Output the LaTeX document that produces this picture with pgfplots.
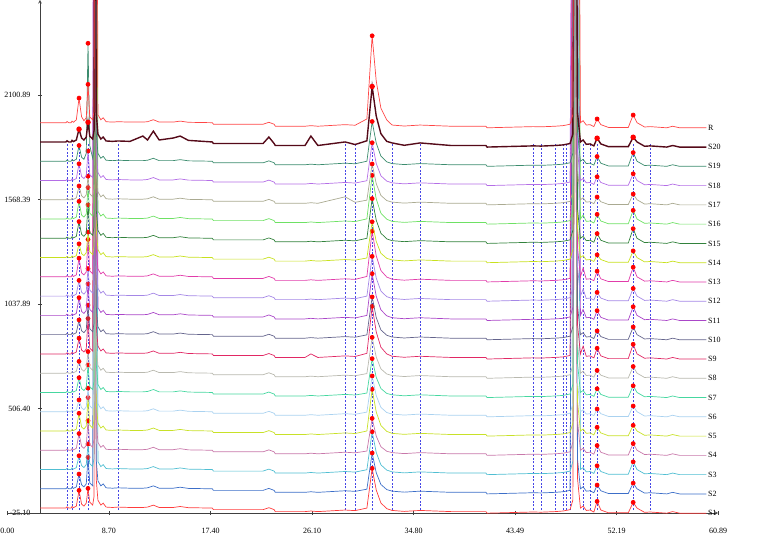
\documentclass[border=0pt]{standalone}
\usepackage{fontspec}
\setmainfont{Liberation Serif}
\usepackage{pgfplots}
\pgfplotsset{compat=1.18}
\usepackage{pgfplotstable}

\definecolor{cS1}{RGB}{255,60,60}
\definecolor{cS2}{RGB}{60,110,200}
\definecolor{cS3}{RGB}{80,190,210}
\definecolor{cS4}{RGB}{200,120,170}
\definecolor{cS5}{RGB}{200,225,40}
\definecolor{cS6}{RGB}{170,210,240}
\definecolor{cS7}{RGB}{70,215,160}
\definecolor{cS8}{RGB}{185,185,175}
\definecolor{cS9}{RGB}{225,40,100}
\definecolor{cS10}{RGB}{100,100,140}
\definecolor{cS11}{RGB}{170,70,200}
\definecolor{cS12}{RGB}{165,135,230}
\definecolor{cS13}{RGB}{225,60,170}
\definecolor{cS14}{RGB}{200,225,30}
\definecolor{cS15}{RGB}{50,130,60}
\definecolor{cS16}{RGB}{110,225,100}
\definecolor{cS17}{RGB}{170,170,145}
\definecolor{cS18}{RGB}{180,110,230}
\definecolor{cS19}{RGB}{60,140,110}
\definecolor{cS20}{RGB}{85,10,25}
\definecolor{cR}{RGB}{255,70,70}
\definecolor{dashblue}{RGB}{70,70,230}

% signal above each trace's own baseline (time in min)
\pgfplotstableread{
x     s1   s2   s3   s4   s5   s6   s7   s8   s9   s10  s11  s12  s13  s14  s15  s16  s17  s18  s19  s20  r
2.8   0    0    0    0    0    0    0    0    0    0    0    0    0    0    0    0    0    0    0    0    0
4.6   0    0    0    0    0    0    0    0    0    0    0    0    0    0    0    0    0    0    0    0    0
5.0   0    0    0    0    0    0    0    0    0    0    0    0    0    0    0    0    0    0    0    0    0
5.1   6    6    6    6    6    6    6    6    6    6    6    6    6    6    6    6    6    6    6    6    6
5.25  0    0    0    0    0    0    0    0    0    0    0    0    0    0    0    0    0    0    0    0    0
5.45  0    0    0    0    0    0    0    0    0    0    0    0    0    0    0    0    0    0    0    0    0
5.53  8    8    8    8    8    8    8    8    8    8    8    8    8    8    8    8    8    8    8    8    8
5.65  2    2    2    2    2    2    2    2    2    2    2    2    2    2    2    2    2    2    2    2    2
5.9   10   10   10   10   10   10   10   10   10   10   10   10   10   10   10   10   10   10   10   10   15
6.13  90   75   70   85   90   60   75   60   80   75   90   80   95   70   85   90   70   85   80   65   125
6.35  20   20   20   20   20   20   20   20   20   20   20   20   20   20   20   20   20   20   20   20   30
6.55  10   10   10   10   10   10   10   10   10   10   10   10   10   10   10   10   10   10   10   10   10
6.75  25   25   25   25   25   25   25   25   25   25   25   25   25   25   25   25   25   25   40   25   25
6.9   100  160  130  150  170  120  140  110  180  150  160  140  190  130  170  160  120  150  600  100  195
7.05  30   30   30   30   30   30   30   30   30   30   30   30   30   30   30   30   30   30   80   30   30
7.3   15   15   15   15   15   15   15   15   15   15   15   15   15   15   15   15   15   15   15   15   15
7.42  60   3000 60   60   60   60   60   60   3000 60   60   60   3000 60   60   60   60   3000 60   60   60
7.5   3000 3000 3000 3000 3000 3000 3000 3000 3000 3000 3000 3000 3000 3000 3000 3000 3000 3000 3000 3000 3000
7.6   150  150  3000 150  150  150  150  150  150  150  3000 150  150  150  150  3000 150  150  150  150  3000
7.75  40   40   40   40   40   40   40   40   40   40   40   40   40   40   40   40   40   40   40   40   40
8.0   15   15   15   15   15   15   15   15   15   15   15   15   15   15   15   15   15   15   15   15   15
8.2   25   25   25   25   25   25   25   25   25   25   25   25   25   25   25   25   25   25   25   25   25
8.45  5    5    5    5    5    5    5    5    5    5    5    5    5    5    5    5    5    5    5    5    5
9.0   3    3    3    3    3    3    3    3    3    3    3    3    3    3    3    3    3    3    3    3    3
9.47  5    5    5    5    5    5    5    5    5    5    5    5    5    5    5    5    5    5    5    5    5
10.5  3    3    3    3    3    3    3    3    3    3    3    3    3    3    3    3    3    3    3    3    3
11.6  3    3    3    3    3    3    3    3    3    3    3    3    3    3    3    3    3    3    3    30   3
12.0  5    5    5    5    5    5    5    5    5    5    5    5    5    5    5    5    5    5    5    10   5
12.5  15   15   15   15   15   15   15   15   15   15   15   15   15   15   15   15   15   15   15   55   15
13.0  3    3    3    3    3    3    3    3    3    3    3    3    3    3    3    3    3    3    3    10   3
14.2  3    3    3    3    3    3    3    3    3    3    3    3    3    3    3    3    3    3    3    20   3
14.8  8    8    8    8    8    8    8    8    8    8    8    8    8    8    8    8    8    8    8    30   8
15.5  2    2    2    2    2    2    2    2    2    2    2    2    2    2    2    2    2    2    2    8    2
17.55 0    0    0    0    0    0    0    0    0    0    0    0    0    0    0    0    0    0    0    0    0
17.65 -8   -8   -8   -8   -8   -8   -8   -8   -8   -8   -8   -8   -8   -8   -8   -8   -8   -8   -8   -8   -8
21.9  -8   -8   -8   -8   -8   -8   -8   -8   -8   -8   -8   -8   -8   -8   -8   -8   -8   -8   -8   -8   -8
22.4  2    2    2    2    2    2    2    2    2    2    2    2    2    2    2    2    2    2    2    25   2
22.85 -8   -8   -8   -8   -8   -8   -8   -8   -8   -8   -8   -8   -8   -8   -8   -8   -8   -8   -8   -8   -8
22.95 -18  -18  -18  -18  -18  -18  -18  -18  -18  -18  -18  -18  -18  -18  -18  -18  -18  -18  -18  -18  -18
25.5  -18  -18  -18  -18  -18  -18  -18  -18  -18  -18  -18  -18  -18  -18  -18  -18  -18  -18  -18  -18  -18
26.0  -15  -15  -15  -15  -15  -15  -15  -15  0    -15  -15  -15  -15  -15  -15  -15  -15  -15  -15  30   -15
26.6  -18  -18  -18  -18  -18  -18  -18  -18  -18  -18  -18  -18  -18  -18  -18  -18  -18  -18  -18  -18  -18
28.93 -10  -10  -10  -10  -10  -10  -10  -10  -10  -10  -10  -10  -10  -10  -10  -10  15   -10  -10  0    -10
29.79 -13  -13  -13  -13  -13  -13  -13  -13  -13  -13  -13  -13  -13  -13  -13  -13  -13  -13  -13  -13  -13
30.8  0    -2   -1   -4   0    -2   -3   -2   3    -1   0    0    2    -2   0    1    -2   -1   0    6    19
31.25 202  182  192  162  212  182  172  182  242  192  212  202  232  182  202  222  182  192  202  282  442
31.6  92   82   87   72   97   82   77   82   112  87   97   92   107  82   92   102  82   87   92   132  212
32.0  26   22   24   18   28   22   20   22   34   24   28   26   32   22   26   30   22   24   26   42   74
32.5  -3   -4   -3   -5   -2   -4   -5   -4   0    -3   -2   -3   -1   -4   -3   -1   -4   -3   -3   3    14
32.96 -12  -12  -12  -12  -12  -12  -12  -12  -12  -12  -12  -12  -12  -12  -12  -12  -12  -12  -12  -5   -12
34.0  -17  -17  -17  -17  -17  -17  -17  -17  -17  -17  -17  -17  -17  -17  -17  -17  -17  -17  -17  -17  -17
35.36 -12  -12  -12  -12  -12  -12  -12  -12  -12  -12  -12  -12  -12  -12  -12  -12  -12  -12  -12  -5   -12
38.0  -18  -18  -18  -18  -18  -18  -18  -18  -18  -18  -18  -18  -18  -18  -18  -18  -18  -18  -18  -18  -18
41.0  -18  -18  -18  -18  -18  -18  -18  -18  -18  -18  -18  -18  -18  -18  -18  -18  -18  -18  -18  -18  -18
41.1  -26  -26  -26  -26  -26  -26  -26  -26  -26  -26  -26  -26  -26  -26  -26  -26  -26  -26  -26  -26  -26
45.04 -20  -20  -20  -20  -20  -20  -20  -20  -20  -20  -20  -20  -20  -20  -20  -20  -20  -20  -20  -20  -20
45.73 -21  -21  -21  -21  -21  -21  -21  -21  -21  -21  -21  -21  -21  -21  -21  -21  -21  -21  -21  -21  -21
46.93 -18  -18  -18  -18  -18  -18  -18  -18  -18  -18  -18  -18  -18  -18  -18  -18  -18  -18  -18  -18  -18
47.61 -15  -15  -15  -15  -15  -15  -15  -15  -15  -15  -15  -15  -15  -15  -15  -15  -15  -15  -15  -15  -15
47.87 -12  -12  -12  -12  -12  -12  -12  -12  -12  -12  -12  -12  -12  -12  -12  -12  -12  -12  -12  -12  -12
48.21 -8   -8   -8   -8   -8   -8   -8   -8   -8   -8   -8   -8   -8   -8   -8   -8   -8   -8   -8   -8   -8
48.45 40   3000 40   40   40   40   40   40   3000 40   40   40   3000 40   40   40   40   3000 40   40   40
48.64 3000 3000 3000 3000 3000 3000 3000 3000 3000 3000 3000 3000 3000 3000 3000 3000 3000 3000 3000 3000 3000
48.85 150  150  3000 150  150  150  150  150  150  150  3000 150  150  150  150  3000 150  150  150  150  3000
49.1  0    0    0    0    0    0    0    0    0    0    0    0    0    0    0    0    0    0    0    0    0
49.33 10   10   10   10   10   10   10   10   40   10   30   35   45   10   10   20   10   10   10   10   10
49.6  -12  -12  -12  -12  -12  -12  -12  -12  -12  -12  -12  -12  -12  -12  -12  -12  -12  -12  -12  -12  -12
49.93 -10  -10  -10  -10  -10  -10  -10  -10  -10  -10  -10  -10  -10  -10  -10  -10  -10  -10  -10  -10  -10
50.25 -20  -20  -20  -20  -20  -20  -20  -20  -20  -20  -20  -20  -20  -20  -20  -20  -20  -20  -20  -20  -20
50.53 34   19   19   24   19   14   19   14   29   19   24   19   29   14   24   24   14   19   24   19   19
50.85 -10  -10  -10  -10  -10  -10  -10  -10  -10  -10  -10  -10  -10  -10  -10  -10  -10  -10  -10  -10  -10
51.5  -24  -24  -24  -24  -24  -24  -24  -24  -24  -24  -24  -24  -24  -24  -24  -24  -24  -24  -24  -24  -24
53.2  -24  -24  -24  -24  -24  -24  -24  -24  -24  -24  -24  -24  -24  -24  -24  -24  -24  -24  -24  -24  -24
53.62 29   29   39   34   29   29   34   34   49   39   44   39   49   34   49   44   29   34   44   24   39
53.95 0    0    0    0    0    0    0    0    0    0    0    0    0    0    0    0    0    0    0    0    0
54.6  -22  -22  -22  -22  -22  -22  -22  -22  -22  -22  -22  -22  -22  -22  -22  -22  -22  -22  -22  -22  -22
55.07 -20  -20  -20  -20  -20  -20  -20  -20  -20  -20  -20  -20  -20  -20  -20  -20  -20  -20  -20  -20  -20
56.5  -26  -26  -26  -26  -26  -26  -26  -26  -26  -26  -26  -26  -26  -26  -26  -26  -26  -26  -26  -26  -26
57.0  -18  -18  -18  -18  -18  -18  -18  -18  -18  -18  -18  -18  -18  -18  -18  -18  -18  -18  -18  -18  -18
57.6  -26  -26  -26  -26  -26  -26  -26  -26  -26  -26  -26  -26  -26  -26  -26  -26  -26  -26  -26  -26  -26
59.9  -26  -26  -26  -26  -26  -26  -26  -26  -26  -26  -26  -26  -26  -26  -26  -26  -26  -26  -26  -26  -26
}\chrom

% peak marks; points outside the y range are dropped, so the
% indices count the visible points only
\pgfplotsset{
  trace/.style={line width=0.7pt, mark=*, mark size=2pt,
    mark indices={10,14,45,68,72}, mark options={fill=red, draw=red}},
  traceAB/.style={trace, mark indices={10,14,44,66,70}},
  traceS1/.style={trace, mark indices={10,14,45,67,71}},
  dashln/.style={dashblue, line width=0.6pt, dash pattern=on 2pt off 1.6pt},
  frame/.style={scale only axis, height=513pt, ymin=-25.10, ymax=2584,
    axis line style={-, black!75, line width=0.6pt},
    every outer x axis line/.append style={-},
    every outer y axis line/.append style={-},
    tick align=outside, major tick length=4pt,
    tick style={black!75, line width=0.6pt},
    tick label style={font=\fontsize{8}{9}\selectfont}},
}
\tikzset{lbl/.style={anchor=west, inner sep=1pt, font=\fontsize{8}{9}\selectfont}}

\begin{document}
\begin{tikzpicture}
\path[use as bounding box] (-7.5pt,-25pt) rectangle (776.5pt,513pt);
% y axis, which stands at t = 2.785 min
\begin{axis}[frame, at={(32.5pt,0pt)}, anchor=south west, width=678pt,
  xmin=2.785, xmax=60.89,
  axis x line=none, axis y line=left,
  ytick={-25.10,506.40,1037.89,1568.39,2100.89},
  yticklabels={-25.10,506.40,1037.89,1568.39,2100.89},
  yticklabel style={xshift=-4pt},
]
\end{axis}
\begin{axis}[frame, at={(0pt,0pt)}, anchor=south west, width=710.5pt,
  xmin=0, xmax=60.89,
  clip mode=individual,
  axis x line=bottom, axis y line=none,
  xtick={0,8.698,17.397,26.096,34.794,43.493,52.191,60.89},
  xticklabels={0.00,8.70,17.40,26.10,34.80,43.49,52.19,60.89},
  xticklabel style={yshift=-10pt},
]
\pgfplotsinvokeforeach{5.10,5.53,6.13,6.90,9.47,28.93,29.79,31.25,32.96,35.36,45.04,45.73,46.93,47.61,47.87,48.21,49.33,49.93,50.53,53.62,55.07}{
  \addplot[dashln] coordinates {(#1,-10) (#1,1850)};
}
\addplot[traceS1, cS1]  table[x=x, y expr=\thisrow{s1}+0]    {\chrom};
\addplot[traceAB, cS2]  table[x=x, y expr=\thisrow{s2}+98]   {\chrom};
\addplot[traceAB, cS3]  table[x=x, y expr=\thisrow{s3}+196]  {\chrom};
\addplot[trace, cS4]    table[x=x, y expr=\thisrow{s4}+294]  {\chrom};
\addplot[trace, cS5]    table[x=x, y expr=\thisrow{s5}+392]  {\chrom};
\addplot[trace, cS6]    table[x=x, y expr=\thisrow{s6}+490]  {\chrom};
\addplot[trace, cS7]    table[x=x, y expr=\thisrow{s7}+588]  {\chrom};
\addplot[trace, cS8]    table[x=x, y expr=\thisrow{s8}+686]  {\chrom};
\addplot[traceAB, cS9]  table[x=x, y expr=\thisrow{s9}+784]  {\chrom};
\addplot[trace, cS10]   table[x=x, y expr=\thisrow{s10}+882] {\chrom};
\addplot[traceAB, cS11] table[x=x, y expr=\thisrow{s11}+980] {\chrom};
\addplot[trace, cS12]   table[x=x, y expr=\thisrow{s12}+1078] {\chrom};
\addplot[traceAB, cS13] table[x=x, y expr=\thisrow{s13}+1176] {\chrom};
\addplot[trace, cS14]   table[x=x, y expr=\thisrow{s14}+1274] {\chrom};
\addplot[trace, cS15]   table[x=x, y expr=\thisrow{s15}+1372] {\chrom};
\addplot[traceAB, cS16] table[x=x, y expr=\thisrow{s16}+1470] {\chrom};
\addplot[trace, cS17]   table[x=x, y expr=\thisrow{s17}+1568] {\chrom};
\addplot[traceAB, cS18] table[x=x, y expr=\thisrow{s18}+1666] {\chrom};
\addplot[trace, cS19]   table[x=x, y expr=\thisrow{s19}+1764] {\chrom};
\addplot[trace, cS20, line width=1.4pt] table[x=x, y expr=\thisrow{s20}+1862] {\chrom};
\addplot[traceAB, cR]   table[x=x, y expr=\thisrow{r}+1960]  {\chrom};
\node[lbl] at (axis cs:59.95,-26)  {S1};
\node[lbl] at (axis cs:59.95,72)   {S2};
\node[lbl] at (axis cs:59.95,170)  {S3};
\node[lbl] at (axis cs:59.95,268)  {S4};
\node[lbl] at (axis cs:59.95,366)  {S5};
\node[lbl] at (axis cs:59.95,464)  {S6};
\node[lbl] at (axis cs:59.95,562)  {S7};
\node[lbl] at (axis cs:59.95,660)  {S8};
\node[lbl] at (axis cs:59.95,758)  {S9};
\node[lbl] at (axis cs:59.95,856)  {S10};
\node[lbl] at (axis cs:59.95,954)  {S11};
\node[lbl] at (axis cs:59.95,1052) {S12};
\node[lbl] at (axis cs:59.95,1150) {S13};
\node[lbl] at (axis cs:59.95,1248) {S14};
\node[lbl] at (axis cs:59.95,1346) {S15};
\node[lbl] at (axis cs:59.95,1444) {S16};
\node[lbl] at (axis cs:59.95,1542) {S17};
\node[lbl] at (axis cs:59.95,1640) {S18};
\node[lbl] at (axis cs:59.95,1738) {S19};
\node[lbl] at (axis cs:59.95,1836) {S20};
\node[lbl] at (axis cs:59.95,1934) {R};
\end{axis}
\end{tikzpicture}
\end{document}
